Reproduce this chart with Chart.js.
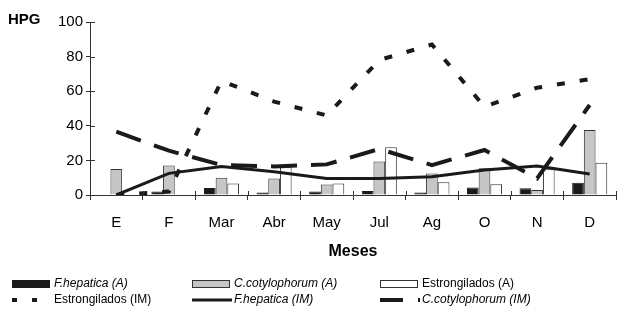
<!DOCTYPE html>
<html>
<head>
<meta charset="utf-8">
<script src="https://cdn.jsdelivr.net/npm/chart.js@4.4.1/dist/chart.umd.min.js"></script>
<style>
  body { margin: 0; background: #fff; }
</style>
</head>
<body>
<canvas id="hpgChart" width="642" height="316"></canvas>
<script>
// months
const meses = ['E', 'F', 'Mar', 'Abr', 'May', 'Jul', 'Ag', 'O', 'N', 'D'];
const yTicks = [0, 20, 40, 60, 80, 100];

// bars (A)
const fHepaticaA = [0, 2, 4, 1.5, 2, 2.3, 1.5, 4.4, 3.9, 7.1];
const cCotylophorumA = [15, 17, 10, 9.6, 6, 19.3, 12.5, 15.4, 2.9, 37.6];
const estrongiladosA = [0, 0, 6.7, 16, 6.7, 27.6, 7.3, 6.2, 14.9, 18.7];

// lines (IM)
const estrongiladosIM = [0, 2, 66, 54, 46, 78, 87, 51, 62, 67];
const fHepaticaIM = [0, 12.5, 16.4, 13.5, 9.6, 9.6, 10.6, 14.5, 16.8, 12.1];
const cCotylophorumIM = [36.6, 25.6, 17.3, 16.5, 17.7, 26.6, 17.3, 26, 9.6, 52];

const FONT = "'Liberation Sans', Arial, sans-serif";
const INK = '#1a1a1a';

// tick marks that cross the axes + HPG label + legend
const extrasPlugin = {
    id: 'extras',
    afterDraw(chart) {
        const ctx = chart.ctx;
        const x = chart.scales.x, y = chart.scales.y;
        const area = chart.chartArea;
        ctx.save();
        ctx.strokeStyle = '#333';
        ctx.lineWidth = 1;
        ctx.beginPath();
        yTicks.forEach(v => {
            const py = Math.round(y.getPixelForValue(v)) + 0.5;
            ctx.moveTo(area.left, py);
            ctx.lineTo(area.left + 5, py);
        });
        for (let i = 0; i <= meses.length; i++) {
            const px = Math.round(x.getPixelForValue(i - 0.5)) + 0.5;
            ctx.moveTo(px, area.bottom);
            ctx.lineTo(px, area.bottom - 4);
        }
        ctx.stroke();

        ctx.fillStyle = '#000';
        ctx.font = 'bold 15px ' + FONT;
        ctx.textBaseline = 'middle';
        ctx.textAlign = 'left';
        ctx.fillText('HPG', 8, 20);

        // legend
        const cols = [12, 192, 380];
        const rows = [284, 300];
        chart.data.datasets.forEach((ds, i) => {
            const lx = cols[i % 3], ly = rows[Math.floor(i / 3)];
            if (ds.type === 'line') {
                ctx.strokeStyle = ds.borderColor;
                ctx.lineWidth = ds.borderWidth;
                ctx.setLineDash(ds.legendDash || []);
                ctx.beginPath();
                ctx.moveTo(lx, ly);
                ctx.lineTo(lx + 40, ly);
                ctx.stroke();
                ctx.setLineDash([]);
            } else {
                ctx.fillStyle = ds.backgroundColor;
                ctx.fillRect(lx, ly - 3.5, 38, 7);
                ctx.strokeStyle = ds.borderColor;
                ctx.lineWidth = 1;
                ctx.strokeRect(lx + 0.5, ly - 3.5, 37, 7);
            }
            ctx.fillStyle = '#000';
            ctx.font = (ds.legendItalic ? 'italic ' : '') + '12px ' + FONT;
            ctx.fillText(ds.label, lx + 42, ly);
        });
        ctx.restore();
    }
};

new Chart(document.getElementById('hpgChart'), {
    type: 'bar',
    data: {
        labels: meses,
        datasets: [
            { label: 'F.hepatica (A)', data: fHepaticaA, backgroundColor: INK, borderColor: INK, borderWidth: 1, order: 1, legendItalic: true },
            { label: 'C.cotylophorum (A)', data: cCotylophorumA, backgroundColor: '#c6c6c6', borderColor: '#333', borderWidth: 1, order: 1, legendItalic: true },
            { label: 'Estrongilados (A)', data: estrongiladosA, backgroundColor: '#fff', borderColor: '#333', borderWidth: 1, order: 1 },
            { type: 'line', label: 'Estrongilados (IM)', data: estrongiladosIM, borderColor: INK, borderWidth: 4, borderDash: [8, 15], legendDash: [5, 15], borderCapStyle: 'butt', pointRadius: 0, tension: 0, order: 0 },
            { type: 'line', label: 'F.hepatica (IM)', data: fHepaticaIM, borderColor: INK, borderWidth: 3, pointRadius: 0, tension: 0, order: 0, legendItalic: true },
            { type: 'line', label: 'C.cotylophorum (IM)', data: cCotylophorumIM, borderColor: INK, borderWidth: 4, borderDash: [26, 14], legendDash: [23, 15], borderCapStyle: 'butt', pointRadius: 0, tension: 0, order: 0, legendItalic: true }
        ]
    },
    options: {
        responsive: false,
        animation: false,
        layout: { padding: { left: 0, right: 26, top: 22, bottom: 54 } },
        datasets: { bar: { categoryPercentage: 0.667, barPercentage: 1.0 } },
        plugins: { legend: { display: false }, tooltip: { enabled: false } },
        scales: {
            x: {
                grid: { offset: true, drawOnChartArea: false, tickLength: 5, color: '#333' },
                border: { color: '#333' },
                ticks: { color: '#000', font: { family: FONT, size: 15 }, padding: 14 },
                title: { display: true, text: 'Meses', color: '#000', font: { family: FONT, size: 16, weight: 'bold' }, padding: { top: 0, bottom: 1 } },
                afterFit(scale) { scale.height = 67; }
            },
            y: {
                min: 0,
                max: 100,
                grid: { drawOnChartArea: false, tickLength: 4, color: '#333' },
                border: { color: '#333' },
                ticks: { stepSize: 20, color: '#000', font: { family: FONT, size: 15 }, padding: 3 },
                afterFit(scale) { scale.width = 90; }
            }
        }
    },
    plugins: [extrasPlugin]
});
</script>
</body>
</html>
